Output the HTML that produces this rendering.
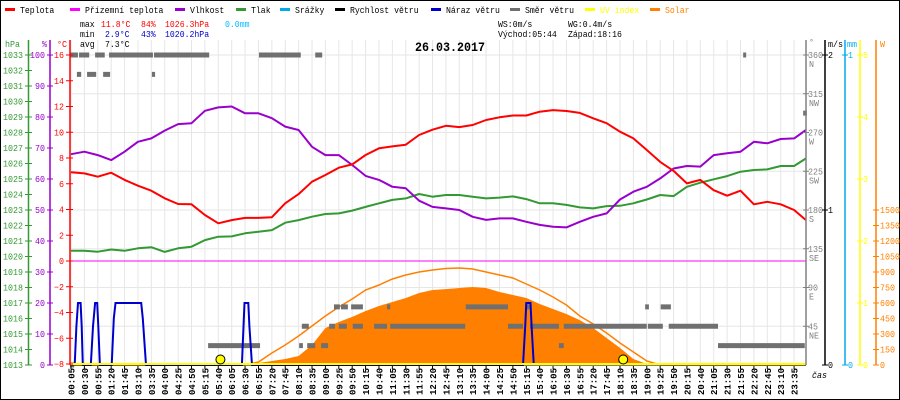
<!DOCTYPE html>
<html><head><meta charset="utf-8"><style>
html,body{margin:0;padding:0;background:#fff;}
svg{display:block;}
text{font-family:"Liberation Mono",monospace;}
</style></head><body>
<svg id="chart" width="900" height="400" viewBox="0 0 900 400" xmlns="http://www.w3.org/2000/svg">
<rect x="0.5" y="0.5" width="899" height="399" fill="#fff" stroke="#000"/>
<g id="grid"></g>
<g id="solar"></g>
<g id="dir"></g>
<g id="lines"></g>
<g id="axes"></g>
<g id="legend"></g>
<g id="header"></g>
</svg>
<script>
// ---- data ----
const categories = ["00:05","00:30","00:55","01:20","01:45","03:10","03:35","04:00","04:25","04:50","05:15","05:40","06:05","06:30","06:55","07:20","07:45","08:10","08:35","09:00","09:25","09:50","10:15","10:40","11:05","11:30","11:55","12:20","12:45","13:10","13:35","14:00","14:25","14:50","15:15","15:40","16:05","16:30","16:55","17:20","17:45","18:10","18:35","19:00","19:25","19:50","20:15","20:40","21:05","21:30","21:55","22:20","22:45","23:10","23:35","23:59"];
const temperature = [6.9,6.8,6.55,6.86,6.3,5.85,5.46,4.87,4.43,4.4,3.57,2.93,3.18,3.35,3.35,3.4,4.48,5.2,6.16,6.68,7.25,7.5,8.23,8.75,8.9,9.03,9.79,10.2,10.5,10.4,10.56,10.95,11.16,11.3,11.3,11.6,11.72,11.65,11.5,11.08,10.7,10.04,9.52,8.62,7.7,7.0,6.03,6.3,5.5,5.07,5.46,4.4,4.6,4.4,3.96,3.18];
const humidity = [68,68.8,67.7,66.1,68.8,72,73.1,75.6,77.7,78,82,83.1,83.4,81.2,81.2,79.6,76.9,75.8,70.4,67.7,67.7,64.5,61,59.7,57.5,57,53,51,50.5,50,47.8,46.8,47.3,47.3,46.2,45.2,44.6,44.4,46.2,47.8,48.9,53.4,55.9,57.5,60.2,63.4,64.2,64,67.7,68.3,68.8,72,71.5,72.9,73.1,75.8];
const pressure = [1020.37,1020.37,1020.31,1020.45,1020.37,1020.53,1020.6,1020.3,1020.53,1020.63,1021.06,1021.28,1021.3,1021.5,1021.6,1021.7,1022.18,1022.35,1022.57,1022.74,1022.78,1022.96,1023.2,1023.43,1023.65,1023.75,1024.03,1023.86,1023.97,1023.97,1023.86,1023.75,1023.8,1023.88,1023.7,1023.43,1023.43,1023.33,1023.17,1023.1,1023.25,1023.27,1023.43,1023.68,1023.97,1023.9,1024.5,1024.76,1024.98,1025.19,1025.47,1025.58,1025.62,1025.84,1025.84,1026.33];
const solarMeasured = [0,0,0,0,0,0,0,0,0,0,0,0,0,0,19,39,58,87,194,358,416,465,523,571,610,648,697,726,735,745,755,745,706,677,648,590,542,494,435,358,261,165,58,10,0,0,0,0,0,0,0,0,0,0,0,0];
const solarTheoretical = [0,0,0,0,0,0,0,0,0,0,0,0,0,0,29,116,194,281,377,474,561,639,726,774,832,871,900,919,934,939,929,900,871,842,784,726,658,581,474,397,310,213,126,39,0,0,0,0,0,0,0,0,0,0,0,0];
const gustTimes = ["00:12","00:15","00:18","00:23","00:25","00:27","00:42","00:46","00:50","00:54","00:56","00:59","01:21","01:25","01:28","03:16","03:19","03:25","06:24","06:27","06:29","06:36","06:38","06:43","15:09","15:13","15:15","15:23","15:25","15:29"];
const gustValues = [0,0.25,0.4,0.4,0.25,0,0,0.25,0.4,0.4,0.25,0,0,0.3,0.4,0.4,0.3,0,0,0.25,0.4,0.4,0.25,0,0,0.25,0.4,0.4,0.25,0];
const dirFrom = ["00:03","00:20","00:50","01:16","03:40","06:56","08:41","22:00","00:16","00:35","01:05","03:36","00:03","05:21","08:11","08:26","08:52","16:16","21:13","08:16","09:07","09:25","09:51","10:31","11:01","14:41","15:22","16:25","19:02","19:41","09:16","09:29","09:48","10:55","13:22","15:13","18:57","19:26","23:52"];
const dirTo = ["00:18","00:39","01:08","03:38","05:23","08:14","08:54","22:05","00:24","00:52","01:18","03:42","00:11","06:58","08:18","08:41","09:05","16:25","23:55","08:29","09:18","09:40","10:10","10:55","13:21","15:09","16:16","19:00","19:30","21:13","09:27","09:42","10:10","11:01","14:41","15:22","19:04","19:45","23:59"];
const dirDeg = [360,360,360,360,360,360,360,360,337.5,337.5,337.5,337.5,0,22.5,22.5,22.5,22.5,22.5,22.5,45,45,45,45,45,45,45,45,45,45,45,67.5,67.5,67.5,67.5,67.5,67.5,67.5,67.5,292.5];
const sunTimes = ["05:44","18:16"];
const leftTempTicks = [16,14,12,10,8,6,4,2,0,-2,-4,-6,-8];
const humTicks = [100,90,80,70,60,50,40,30,20,10,0];
const presTicks = [1033,1032,1031,1030,1029,1028,1027,1026,1025,1024,1023,1022,1021,1020,1019,1018,1017,1016,1015,1014,1013];
const dirTicks = [360,315,270,225,180,135,90,45];
const dirNames = ["N","NW","W","SW","S","SE","E","NE"];
const solarTicks = [0,150,300,450,600,750,900,1050,1200,1350,1500];
const uvTicks = [0,1,2,3,4,5];

// ---- scales ----
const X0=71, DX=13.39, YT=55, YB=365, XL=70, XR=806;
const xIdx = i => X0 + DX*i;
function toMin(s){const p=s.split(':');return (+p[0])*60+(+p[1]);}
function idxOfMin(m){ if(m<=105) return (m-5)/25; if(m<190) return 4+(m-105)/85; return 5+(m-190)/25; }
const xT = s => xIdx(idxOfMin(toMin(s)));
const yTemp = v => 261 - v*12.875;
const yHum = v => 365 - v*3.1;
const yPres = v => 365 - (v-1013)*15.5;
const ySol = v => 365 - v*15.5/150;
const yWind = v => 365 - v*155;
const yDir = v => 365 - v*310/360;
const yUV = v => 365 - v*62;

const NS="http://www.w3.org/2000/svg";
function el(tag, attrs, parent){const e=document.createElementNS(NS,tag);for(const k in attrs)e.setAttribute(k,attrs[k]);document.getElementById(parent).appendChild(e);return e;}
function txt(x,y,s,fill,parent,anchor,size,cw,weight){
  const e=el('text',{x:x,y:y,fill:fill,'font-size':size||9,'text-anchor':anchor||'start','textLength':s.length*(cw||5),'lengthAdjust':'spacingAndGlyphs','font-weight':weight||'normal'},parent);
  e.textContent=s;return e;}

// grid
for(let i=0;i<55;i++){
  const g=el('line',{x1:xIdx(i),x2:xIdx(i),y1:40,y2:YB,stroke:'#e6e6e6','stroke-width':1},'grid');
  
  
}
for(let k=0;k<8;k++){
  const y=YT+38.75*k;
  const g=el('line',{x1:XL,x2:XR,y1:y,y2:y,stroke:'#e6e6e6','stroke-width':1},'grid');
  
  
}
// zero line
const zl=el('line',{x1:XL,x2:XR,y1:yTemp(0),y2:yTemp(0),stroke:'#ff00ff','stroke-width':1},'grid');



// solar
function solarPts(arr){let p=[];arr.forEach((v,i)=>{const x=i<55?xIdx(i):XR;p.push(x.toFixed(1)+','+ySol(v).toFixed(1));});return p;}
const sm=solarPts(solarMeasured);
const sa=el('polygon',{points:xIdx(0)+','+YB+' '+sm.join(' ')+' '+XR+','+YB,fill:'#ff8000'},'solar');


const st=el('polyline',{points:solarPts(solarTheoretical).join(' '),fill:'none',stroke:'#ff8000','stroke-width':1.5},'solar');



// direction
dirDeg.forEach((d,i)=>{
  const x1=xT(dirFrom[i]), x2=xT(dirTo[i]);
  const r=el('rect',{x:x1,y:yDir(d)-2.5,width:Math.max(3,x2-x1),height:5,fill:'#707070'},'dir');
  
  
});

// lines
function series(arr,yf,color,name){
  const pts=arr.map((v,i)=>(i<55?xIdx(i):XR).toFixed(1)+','+yf(v).toFixed(1)).join(' ');
  const p=el('polyline',{points:pts,fill:'none',stroke:color,'stroke-width':2,'stroke-linejoin':'round'},'lines');
  
  
}
series(pressure,yPres,'#339933','pressure-line');
series(humidity,yHum,'#9900cc','humidity-line');
series(temperature,yTemp,'#ff0000','temperature-line');
// gusts
const gp=gustTimes.map((t,i)=>xT(t).toFixed(1)+','+yWind(gustValues[i]).toFixed(1)).join(' ');
const gl=el('polyline',{points:gp,fill:'none',stroke:'#0000cc','stroke-width':2},'lines');


// bottom line UV
const ub=el('line',{x1:XL,x2:XR,y1:YB,y2:YB,stroke:'#000','stroke-width':1},'lines');


const uv=el('line',{x1:XL,x2:XR,y1:YB-1,y2:YB-1,stroke:'#ffff00','stroke-width':2},'lines');


sunTimes.forEach((s,i)=>{
  const c=el('circle',{cx:xT(s),cy:359.5,r:4.5,fill:'#ffff00',stroke:'#000','stroke-width':1},'lines');
  
  
});

// x-axis labels
for(let i=0;i<55;i++){
  const x=xIdx(i);
  const tk=el('line',{x1:x,x2:x,y1:366,y2:369,stroke:'#000'},'axes');
  
  
  const t=el('text',{x:395,y:x+3.5,fill:'#000','font-size':9,'font-weight':'bold','textLength':27,'lengthAdjust':'spacingAndGlyphs',transform:'rotate(-90 395 '+(x+3.5)+') translate(-395 '+(-(x+3.5))+') translate('+(x+3.5)+' 395) translate(-395 '+(-(x+3.5))+')'},'axes');
  t.setAttribute('x',x+3.5); t.setAttribute('y',395);
  t.setAttribute('transform','rotate(-90 '+(x+3.5)+' 395)');
  t.textContent=categories[i];
  
  
}
txt(812,378,'čas','#000','axes','start',9,5).setAttribute('font-style','italic');

// left axes
function vline(x,color,name){const l=el('line',{x1:x,x2:x,y1:40,y2:YB,stroke:color,'stroke-width':1.5},'axes');}
vline(28.5,'#339933','pressure-axis');
vline(50,'#9900cc','humidity-axis');
vline(70,'#ff0000','temperature-axis');
presTicks.forEach(v=>{const y=yPres(v);el('line',{x1:25,x2:32,y1:y,y2:y,stroke:'#339933'},'axes');txt(23,y+3,String(v),'#339933','axes','end',9,5);});
humTicks.forEach(v=>{const y=yHum(v);el('line',{x1:47,x2:53,y1:y,y2:y,stroke:'#9900cc'},'axes');txt(45,y+3,String(v),'#9900cc','axes','end',9,5);});
leftTempTicks.forEach(v=>{const y=yTemp(v);el('line',{x1:66,x2:73,y1:y,y2:y,stroke:'#ff0000'},'axes');txt(64,y+3,String(v).replace('-','−'),'#ff0000','axes','end',9,5);});
txt(5,47,'hPa','#339933','axes','start',9,5);
txt(42,47,'%','#9900cc','axes','start',9,5);
txt(57,47,'°C','#ff0000','axes','start',9,5);

// right axes
vline(806,'#808080','wind-direction-axis');
vline(825,'#000000','wind-speed-axis');
vline(845,'#00aaee','rain-axis');
vline(860,'#ffff00','uv-axis');
vline(876,'#ff8000','solar-axis');
dirTicks.forEach((v,i)=>{const y=yDir(v);el('line',{x1:803,x2:809,y1:y,y2:y,stroke:'#808080'},'axes');txt(808,y+3,String(v),'#808080','axes','start',9,5);txt(809,y+12,dirNames[i],'#808080','axes','start',9,5);});
txt(809,45,'°','#808080','axes','start',9,5);
[[2,55],[1,210],[0,365]].forEach(a=>{el('line',{x1:822,x2:828,y1:a[1],y2:a[1],stroke:'#000'},'axes');txt(828,a[1]+3,String(a[0]),'#000','axes','start',9,5);});
txt(828,47,'m/s','#000','axes','start',9,5);
[[1,55],[0,365]].forEach(a=>{el('line',{x1:842,x2:848,y1:a[1],y2:a[1],stroke:'#00aaee'},'axes');txt(848,a[1]+3,String(a[0]),'#00aaee','axes','start',9,5);});
txt(847,47,'mm','#00aaee','axes','start',9,5);
uvTicks.forEach(v=>{const y=yUV(v);el('line',{x1:857,x2:863,y1:y,y2:y,stroke:'#ffff00'},'axes');txt(863,y+3,String(v),'#ffff00','axes','start',9,5);});
solarTicks.forEach(v=>{const y=ySol(v);el('line',{x1:873,x2:879,y1:y,y2:y,stroke:'#ff8000'},'axes');txt(880,y+3,String(v),'#ff8000','axes','start',9,5);});
txt(880,47,'W','#ff8000','axes','start',9,5);

// legend
const leg=[['Teplota','#ff0000',5],['Přízemní teplota','#ff00ff',70],['Vlhkost','#9900cc',175],['Tlak','#339933',236],['Srážky','#00aaee',280],['Rychlost větru','#000000',335],['Náraz větru','#0000cc',431],['Směr větru','#707070',510],['UV index','#ffff00',585],['Solar','#ff8000',650]];
leg.forEach(l=>{
  const r=el('rect',{x:l[2],y:8,width:10,height:3,fill:l[1]},'legend');
  
  
  const t=txt(l[2]+15,13,l[0],l[1]=='#ffff00'?'#ffff00':(l[1]=='#ff8000'?'#ff8000':'#000'),'legend','start',9,4.9);
  
  
});

// header
const H=[[80,27,'max','#000'],[101,27,'11.8°C','#ff0000'],[141,27,'84%','#ff0000'],[165,27,'1026.3hPa','#ff0000'],[225,27,'0.0mm','#00bbff'],
[80,37,'min','#000'],[105,37,'2.9°C','#0000cc'],[141,37,'43%','#0000cc'],[165,37,'1020.2hPa','#0000cc'],
[80,47,'avg','#000'],[105,47,'7.3°C','#000'],
[498,27,'WS:0m/s','#000'],[568,27,'WG:0.4m/s','#000'],[498,37,'Východ:05:44','#000'],[568,37,'Západ:18:16','#000']];
H.forEach(h=>{const t=txt(h[0],h[1],h[2],h[3],'header','start',9,4.9);});
const title=txt(415,51,'26.03.2017','#000','header','start',13,7,'bold');


</script>
</body></html>
